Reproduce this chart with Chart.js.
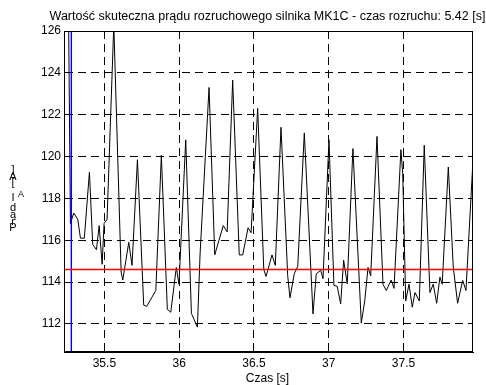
<!DOCTYPE html>
<html><head><meta charset="utf-8">
<script src="https://cdn.jsdelivr.net/npm/chart.js@4"></script>
<style>html,body{margin:0;padding:0;background:#fff}#wrap{width:486px;height:385px;position:relative}</style>
</head><body><div id="wrap"><canvas id="c" width="486" height="385"></canvas></div>
<script>
// ---- data ----
const times = [35.244,35.273,35.295,35.322,35.340,35.366,35.400,35.422,35.447,35.465,35.485,35.498,35.518,35.563,35.612,35.623,35.663,35.685,35.721,35.763,35.783,35.844,35.881,35.921,35.944,35.981,35.999,36.044,36.082,36.122,36.140,36.200,36.238,36.295,36.321,36.358,36.402,36.425,36.461,36.481,36.525,36.566,36.581,36.621,36.643,36.681,36.726,36.741,36.770,36.793,36.837,36.895,36.917,36.947,36.962,37.002,37.035,37.057,37.080,37.100,37.124,37.162,37.218,37.241,37.263,37.281,37.323,37.363,37.385,37.418,37.437,37.483,37.495,37.515,37.537,37.559,37.577,37.606,37.639,37.677,37.699,37.722,37.744,37.759,37.800,37.833,37.862,37.896,37.918,37.963,37.985];
const currents = [140,116.8,117.3,117.0,116.1,116.1,119.26,115.8,115.55,116.7,114.85,116.8,117.0,126.3,114.48,114.1,115.9,114.8,119.85,112.9,112.84,113.6,120.06,112.7,112.56,114.7,113.9,120.8,112.5,111.85,115.35,123.3,115.3,116.7,116.4,123.65,115.3,115.3,116.6,116.36,122.3,114.6,114.27,115.3,114.8,121.4,114.3,113.25,114.4,114.75,121.13,112.48,114.4,114.56,114.16,120.8,113.84,113.8,112.96,115.04,113.92,120.38,112.04,113.1,114.7,114.3,120.96,113.9,113.6,114.1,113.7,120.33,119.2,113.1,113.9,112.8,113.5,113.1,120.54,113.5,113.9,112.99,114.24,113.9,119.5,114.72,112.99,114.08,113.6,119.58,113.0];
const xTicks = [35.5,36,36.5,37,37.5];
const yTicks = [112,114,116,118,120,122,124,126];
const refLevel = 114.6;
const markerTime = 35.279;
const xRange = [35.23,37.965];
const yRange = [110.66,126];
const titleText = 'Wartość skuteczna prądu rozruchowego silnika MK1C - czas rozruchu: 5.42 [s]';
const xLabel = 'Czas [s]';
const yLabelMain = 'Prąd I';
const yLabelSub = 'A';
const yLabelUnit = ' [A]';

const FONT = '"Liberation Sans", Arial, sans-serif';

const textPlugin = {
  id: 'texts',
  afterDraw(chart) {
    const ctx = chart.ctx, ca = chart.chartArea;
    ctx.save();
    // frame
    ctx.strokeStyle = '#000'; ctx.lineWidth = 1; ctx.setLineDash([]);
    ctx.strokeRect(ca.left + 0.5, ca.top + 0.5, ca.right - ca.left - 1, ca.bottom - ca.top - 1);
    ctx.fillStyle = '#000';
    // title
    ctx.font = '12.5px ' + FONT;
    ctx.textAlign = 'center'; ctx.textBaseline = 'alphabetic';
    ctx.fillText(titleText, (ca.left + ca.right) / 2 - 1, 20);
    // x label
    ctx.font = '12px ' + FONT;
    ctx.fillText(xLabel, (ca.left + ca.right) / 2 - 1, 382);
    // y label: glyphs stacked bottom-to-top (as in the reference rendering)
    ctx.textBaseline = 'middle';
    let y = 233;
    const f = 1.25;
    ctx.font = '11px ' + FONT;
    for (const ch of yLabelMain) {
      const w = ctx.measureText(ch).width;
      ctx.fillText(ch, 13, y - w * f / 2);
      y -= w * f;
    }
    ctx.font = '9px ' + FONT;
    const ws = ctx.measureText(yLabelSub).width;
    ctx.fillText(yLabelSub, 21, y - ws * f / 2 + 2);
    y -= ws * f;
    ctx.font = '11px ' + FONT;
    for (const ch of yLabelUnit) {
      const w = ctx.measureText(ch).width;
      ctx.fillText(ch, 13, y - w * f / 2);
      y -= w * f;
    }
    ctx.restore();
  }
};

new Chart(document.getElementById('c'), {
  type: 'scatter',
  data: {
    datasets: [
      { data: times.map((t, i) => ({ x: t, y: currents[i] })), showLine: true, borderColor: '#000', borderWidth: 1, pointRadius: 0, tension: 0, fill: false, order: 2 },
      { data: [{ x: xRange[0], y: refLevel }, { x: xRange[1], y: refLevel }], showLine: true, borderColor: '#ff0000', borderWidth: 1.4, pointRadius: 0, order: 1 },
      { data: [{ x: markerTime, y: yRange[0] }, { x: markerTime, y: yRange[1] }], showLine: true, borderColor: '#0000ff', borderWidth: 1.4, pointRadius: 0, order: 1 }
    ]
  },
  options: {
    responsive: false, animation: false, devicePixelRatio: 1,
    layout: { padding: { top: 31, right: 13, left: 0, bottom: 0 } },
    plugins: { legend: { display: false }, tooltip: { enabled: false }, title: { display: false } },
    scales: {
      x: {
        type: 'linear', min: xRange[0], max: xRange[1],
        afterBuildTicks: s => { s.ticks = xTicks.map(v => ({ value: v })); },
        afterFit: s => { s.height = 33; },
        ticks: { callback: v => String(v), color: '#000', font: { size: 12, family: FONT }, padding: 4, maxRotation: 0, autoSkip: false },
        grid: { color: '#000', lineWidth: 1, drawTicks: false },
        border: { display: true, color: '#000', dash: [8, 5] }
      },
      y: {
        type: 'linear', min: yRange[0], max: yRange[1],
        afterBuildTicks: s => { s.ticks = yTicks.map(v => ({ value: v })); },
        afterFit: s => { s.width = 64; },
        ticks: { callback: v => String(v), color: '#000', font: { size: 12, family: FONT }, padding: 3, autoSkip: false },
        grid: { color: '#000', lineWidth: 1, drawTicks: false },
        border: { display: true, color: '#000', dash: [8, 5] }
      }
    }
  },
  plugins: [textPlugin]
});
</script></body></html>
